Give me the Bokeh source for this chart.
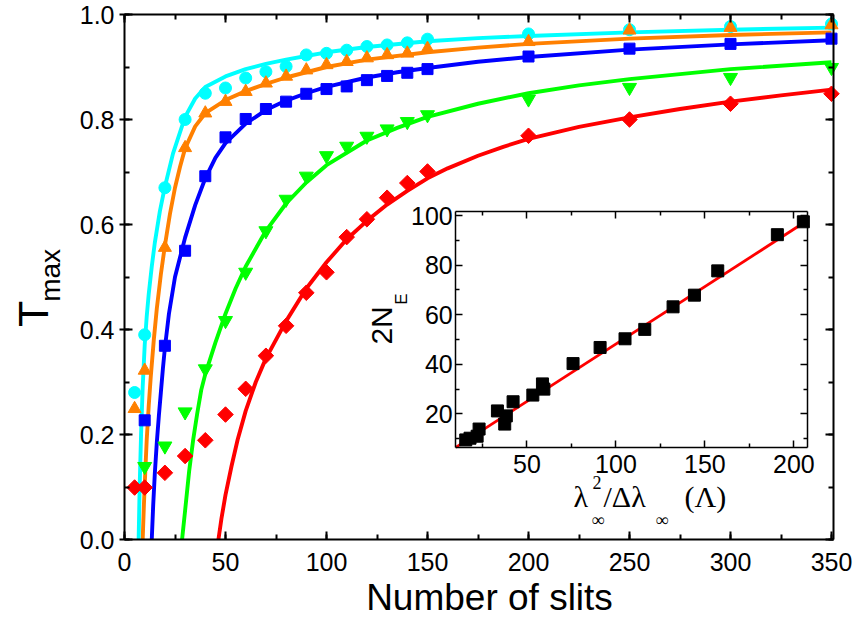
import numpy as np
from bokeh.plotting import figure
from bokeh.models import (Range1d, LinearAxis, FixedTicker, SingleIntervalTicker,
                          PrintfTickFormatter, CustomJSTickFormatter, Label)
from bokeh.embed import file_html
from bokeh.resources import INLINE

# ---------------- data: main panel (measured points) ----------------
slits_a = [5, 10, 20, 30, 40, 50, 60, 70, 80, 90, 100, 110, 120, 130, 140, 150, 200, 250, 300, 350]
slits_b = [10, 20, 30, 40, 50, 60, 70, 80, 90, 100, 110, 120, 130, 140, 150, 200, 250, 300, 350]
t_cyan = [0.28, 0.39, 0.67, 0.80, 0.85, 0.86, 0.879, 0.891, 0.901, 0.923, 0.926, 0.932, 0.939, 0.942, 0.946, 0.953, 0.963, 0.971, 0.977, 0.982]
t_orange = [0.249, 0.322, 0.556, 0.746, 0.812, 0.834, 0.853, 0.869, 0.882, 0.894, 0.904, 0.910, 0.917, 0.923, 0.926, 0.935, 0.948, 0.970, 0.975, 0.980]
t_blue = [0.227, 0.369, 0.550, 0.692, 0.766, 0.801, 0.820, 0.834, 0.849, 0.858, 0.863, 0.875, 0.883, 0.889, 0.896, 0.920, 0.935, 0.944, 0.954]
t_green = [0.139, 0.178, 0.243, 0.325, 0.417, 0.509, 0.588, 0.648, 0.692, 0.731, 0.749, 0.768, 0.782, 0.796, 0.809, 0.839, 0.861, 0.880, 0.899]
t_red = [0.099, 0.099, 0.127, 0.159, 0.189, 0.238, 0.287, 0.350, 0.407, 0.470, 0.509, 0.576, 0.610, 0.651, 0.679, 0.701, 0.769, 0.800, 0.830, 0.849]

# ---------------- data: main panel (fit curves) ----------------
fit_cyan_n = [7, 7.5, 8.2, 9, 10, 11, 12, 13.5, 15, 17.5, 20, 24, 30, 35, 40, 50, 60, 70, 80, 90, 100, 120, 150, 175, 200, 250, 300, 350]
fit_cyan_t = [0, 0.10, 0.20, 0.29, 0.37, 0.425, 0.468, 0.52, 0.565, 0.625, 0.672, 0.735, 0.805, 0.84, 0.862, 0.882, 0.896, 0.906, 0.914, 0.921, 0.928, 0.938, 0.949, 0.955, 0.959, 0.966, 0.971, 0.975]
fit_orange_n = [9, 9.6, 10.3, 11, 12, 13, 14.5, 16, 18, 20, 22.5, 25, 27.5, 30, 35, 40, 50, 60, 70, 80, 90, 100, 120, 150, 175, 200, 250, 300, 350]
fit_orange_t = [0, 0.065, 0.13, 0.19, 0.255, 0.31, 0.38, 0.44, 0.505, 0.56, 0.62, 0.67, 0.71, 0.745, 0.787, 0.812, 0.837, 0.854, 0.868, 0.88, 0.89, 0.90, 0.914, 0.928, 0.937, 0.944, 0.954, 0.961, 0.966]
fit_blue_n = [13.5, 14.2, 15, 16, 17, 18, 19, 20, 22, 25, 30, 35, 40, 45, 50, 60, 70, 80, 90, 100, 120, 135, 150, 175, 200, 250, 300, 350]
fit_blue_t = [0, 0.065, 0.125, 0.185, 0.235, 0.28, 0.325, 0.365, 0.43, 0.50, 0.575, 0.637, 0.688, 0.727, 0.755, 0.792, 0.818, 0.836, 0.85, 0.862, 0.88, 0.89, 0.898, 0.91, 0.919, 0.933, 0.943, 0.951]
fit_green_n = [28.5, 30, 32, 34, 36, 38, 40, 45, 50, 55, 60, 70, 80, 90, 100, 120, 135, 150, 175, 200, 225, 250, 300, 350]
fit_green_t = [0, 0.055, 0.13, 0.19, 0.24, 0.285, 0.315, 0.375, 0.43, 0.478, 0.52, 0.588, 0.64, 0.68, 0.713, 0.76, 0.784, 0.805, 0.83, 0.85, 0.865, 0.877, 0.896, 0.909]
fit_red_n = [46.5, 48, 50, 53, 56, 60, 65, 70, 80, 90, 100, 110, 120, 130, 140, 150, 160, 175, 187.5, 200, 225, 250, 275, 300, 325, 350]
fit_red_t = [0, 0.04, 0.085, 0.14, 0.19, 0.245, 0.30, 0.345, 0.416, 0.478, 0.528, 0.572, 0.607, 0.638, 0.664, 0.688, 0.707, 0.731, 0.748, 0.763, 0.786, 0.804, 0.82, 0.834, 0.846, 0.857]

# ---------------- data: inset ----------------
inset_x = [15.6, 18.0, 23.1, 22.0, 33.4, 38.4, 37.5, 42.2, 53.3, 58.7, 59.5, 75.9, 91.1, 105.1, 116.2, 132.1, 144.1, 157.2, 190.7, 205.3]
inset_y = [9.5, 10.2, 13.9, 11.0, 21.2, 19.2, 15.9, 24.9, 27.6, 32.1, 30.0, 40.3, 46.8, 50.3, 54.1, 63.2, 67.9, 77.7, 92.3, 97.5]
inset_fit_x = [10, 207.5]
inset_fit_y = [6.5, 98.0]

# axis ranges / ticks
X_AX = (0, 351)
Y_AX = (0, 1.0)
INSET_X_RANGE = (10, 207.5)
INSET_Y_RANGE = (6.4, 101.7)
INSET_X_TICKS = [50, 100, 150, 200]
INSET_X_MINOR = [25, 75, 125, 175]
INSET_Y_TICKS = [20, 40, 60, 80, 100]
INSET_Y_MINOR = [10, 30, 50, 70, 90]
# inset box, in main-axis coordinates
INSET_BOX = (164.0, 338.0, 0.175, 0.625)

# ---------------- layout (page pixels; the page has no margin) ----------------
PAGE = 0
CW, CH = 855, 621               # canvas size
AX_L_PX, AX_350_PX = 124, 831   # page x of N=0 and N=350
AX_B_PX, AX_T_PX = 539, 14      # page y of T=0 and T=1
XPX = (AX_350_PX - AX_L_PX) / 350.0
YPX = (AX_B_PX - AX_T_PX) / 1.0
x_start = (PAGE - AX_L_PX) / XPX
x_end = (PAGE + CW - AX_L_PX) / XPX
y_start = -(PAGE + CH - AX_B_PX) / YPX
y_end = (AX_B_PX - PAGE) / YPX

# reference-picture mapping, used to place the titles
REF_X0, REF_XS, REF_Y0, REF_YS = 124, 2.02, 539, 528


def rx(px):
    return (px - REF_X0) / REF_XS


def ry(py):
    return (REF_Y0 - py) / REF_YS


FONT = "Liberation Sans"
SERIF = "Liberation Serif"

p = figure(width=CW, height=CH,
           x_range=Range1d(x_start, x_end), y_range=Range1d(y_start, y_end),
           x_axis_type=None, y_axis_type=None,
           output_backend="svg", toolbar_location=None,
           min_border=0, min_border_left=0, min_border_right=0,
           min_border_top=0, min_border_bottom=0,
           background_fill_color="white", border_fill_color="white")
p.outline_line_color = None
p.xgrid.visible = False
p.ygrid.visible = False

# extra ranges mapping the inset onto its box
fx0 = (INSET_BOX[0] - x_start) / (x_end - x_start)
fx1 = (INSET_BOX[1] - x_start) / (x_end - x_start)
fy0 = (INSET_BOX[2] - y_start) / (y_end - y_start)
fy1 = (INSET_BOX[3] - y_start) / (y_end - y_start)
sx = (INSET_X_RANGE[1] - INSET_X_RANGE[0]) / (fx1 - fx0)
sy = (INSET_Y_RANGE[1] - INSET_Y_RANGE[0]) / (fy1 - fy0)
ixs = INSET_X_RANGE[0] - fx0 * sx
iys = INSET_Y_RANGE[0] - fy0 * sy
p.extra_x_ranges = {"ix": Range1d(ixs, ixs + sx)}
p.extra_y_ranges = {"iy": Range1d(iys, iys + sy)}


def style_axis(ax, labels=True, size="25px", lw=2, tin=8, tout=0, minin=5):
    ax.axis_line_width = lw
    ax.axis_line_color = "black"
    ax.major_tick_line_width = lw
    ax.minor_tick_line_width = lw
    ax.major_tick_in = tin
    ax.major_tick_out = tout
    ax.minor_tick_in = minin
    ax.minor_tick_out = 0
    ax.major_label_text_font = FONT
    ax.major_label_text_font_size = size
    ax.major_label_text_color = "black"
    if not labels:
        ax.formatter = CustomJSTickFormatter(code="return ''")
        ax.major_label_standoff = 0


# main axes (fixed at the data box)
xtick = SingleIntervalTicker(interval=50, num_minor_ticks=2)
ytick = SingleIntervalTicker(interval=0.2, num_minor_ticks=2)
xb = LinearAxis(ticker=xtick, fixed_location=Y_AX[0], bounds=X_AX)
style_axis(xb)
xb.major_label_standoff = 13
p.add_layout(xb, "below")
yl = LinearAxis(ticker=ytick, formatter=PrintfTickFormatter(format="%.1f"),
                fixed_location=X_AX[0], bounds=Y_AX)
style_axis(yl, tout=5)
yl.major_label_standoff = 5
p.add_layout(yl, "left")
xt = LinearAxis(ticker=xtick, fixed_location=Y_AX[1], bounds=X_AX)
style_axis(xt, labels=False)
p.add_layout(xt, "above")
yr = LinearAxis(ticker=ytick, fixed_location=X_AX[1], bounds=Y_AX)
style_axis(yr, labels=False)
p.add_layout(yr, "right")

# fit curves
curves = [(fit_red_n, fit_red_t, "#FF0000"), (fit_green_n, fit_green_t, "#00FF00"),
          (fit_blue_n, fit_blue_t, "#0000FF"), (fit_orange_n, fit_orange_t, "#FF8000"),
          (fit_cyan_n, fit_cyan_t, "#00FFFF")]
for xs, ys, c in curves:
    p.line(xs, ys, line_color=c, line_width=3.9, line_join="round")

# measured points
p.scatter(slits_a, t_red, marker="square", angle=np.pi / 4, size=11, color="#FF0000")
p.scatter(slits_b, t_green, marker="inverted_triangle", size=14, color="#00FF00")
p.scatter(slits_b, t_blue, marker="square", size=11, color="#0000FF")
p.scatter(slits_a, t_cyan, marker="circle", size=12, color="#00FFFF")
p.scatter(slits_a, t_orange, marker="triangle", size=13, color="#FF8000")

# inset background, fit line and points
p.quad(left=INSET_X_RANGE[0], right=INSET_X_RANGE[1], bottom=INSET_Y_RANGE[0], top=INSET_Y_RANGE[1],
       x_range_name="ix", y_range_name="iy", fill_color="white", line_color=None)
p.line(inset_fit_x, inset_fit_y, x_range_name="ix", y_range_name="iy", line_color="#FF0000", line_width=2.8)
p.scatter(inset_x, inset_y, x_range_name="ix", y_range_name="iy", marker="square", size=12, color="black")

# inset axes
ixt = FixedTicker(ticks=INSET_X_TICKS, minor_ticks=INSET_X_MINOR)
iyt = FixedTicker(ticks=INSET_Y_TICKS, minor_ticks=INSET_Y_MINOR)
ib = LinearAxis(x_range_name="ix", y_range_name="iy", ticker=ixt, fixed_location=INSET_Y_RANGE[0],
                bounds=INSET_X_RANGE)
style_axis(ib, lw=1.5, tin=7, minin=4)
ib.major_label_standoff = 7
p.add_layout(ib, "below")
il = LinearAxis(x_range_name="ix", y_range_name="iy", ticker=iyt, fixed_location=INSET_X_RANGE[0],
                bounds=INSET_Y_RANGE)
style_axis(il, lw=1.5, tin=7, minin=4)
il.major_label_standoff = 3
p.add_layout(il, "left")
it = LinearAxis(x_range_name="ix", y_range_name="iy", ticker=ixt, fixed_location=INSET_Y_RANGE[1],
                bounds=INSET_X_RANGE)
style_axis(it, labels=False, lw=1.5, tin=7, minin=4)
p.add_layout(it, "above")
ir = LinearAxis(x_range_name="ix", y_range_name="iy", ticker=iyt, fixed_location=INSET_X_RANGE[1],
                bounds=INSET_Y_RANGE)
style_axis(ir, labels=False, lw=1.5, tin=7, minin=4)
p.add_layout(ir, "right")


def lab(text, px, py, size, font=FONT, angle=0.0, align="left"):
    # px, py: where the text baseline starts (or is centred) in the reference picture
    shift = 12 if size >= 28 else 4   # px the svg text sits below its anchor
    if angle:
        px = px - shift
    else:
        py = py - shift
    p.add_layout(Label(x=rx(px), y=ry(py), text=text, text_font=font, text_font_size=f"{size}px",
                       text_color="black", angle=angle, text_align=align,
                       text_baseline="alphabetic"))


# main axis titles
lab("Number of slits", 489, 609, 37, align="center")
lab("T", 44, 312, 43, angle=np.pi / 2, align="center")
lab("max", 62, 300, 28, angle=np.pi / 2)

# inset axis titles
lab("2N", 392.7, 343, 30, angle=np.pi / 2)
lab("E", 405, 303, 17, angle=np.pi / 2)
lab("\u03bb", 573, 508, 30, font=SERIF)
lab("2", 592, 486, 18, font=SERIF)
lab("\u221e", 591, 523, 18, font=SERIF)
lab("/\u0394\u03bb", 603, 508, 30, font=SERIF)
lab("\u221e", 655, 523, 18, font=SERIF)
lab("(\u039b)", 684, 508, 30, font=SERIF)

open("out.html", "w").write(file_html(p, INLINE))
